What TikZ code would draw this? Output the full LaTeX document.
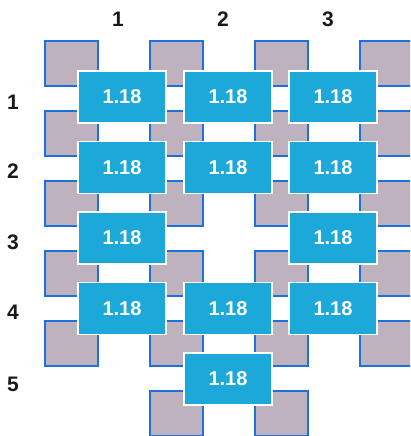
\documentclass[tikz,border=0pt]{standalone}
\usepackage{fontspec}
\setmainfont{Liberation Sans}
\definecolor{tilegray}{RGB}{189,178,190}
\definecolor{tileedge}{RGB}{30,112,220}
\definecolor{padblue}{RGB}{28,169,217}
\begin{document}
\begin{tikzpicture}[x=1pt,y=-1pt,
  tile/.style={rectangle, fill=tilegray, draw=tileedge, line width=1.8pt,
    minimum width=53pt, minimum height=45pt, anchor=north west, inner sep=0pt},
  pad/.style={rectangle, fill=padblue, draw=white, line width=1.5pt,
    minimum width=88pt, minimum height=52pt, inner sep=0pt, text=white,
    font=\bfseries\fontsize{20}{20}\selectfont},
  lab/.style={font=\bfseries\fontsize{21}{21}\selectfont, text=black!90}]
\clip (0,0) rectangle (410,436);
\fill[white] (0,0) rectangle (410,436);

% grey square tiles, rows 0-4 in all four columns
\foreach \c/\x in {1/44,2/149,3/254,4/359}
  \foreach \r/\y in {0/40,1/110,2/180,3/250,4/320}
    {\node[tile] (sq-\r-\c) at (\x,\y) {};}
% last row: only the two middle columns
\node[tile] (sq-5-2) at (149,390) {};
\node[tile] (sq-5-3) at (254,390) {};

% blue pads carrying the value
\foreach \n/\x/\y in {1-1/122/97, 1-2/228/97, 1-3/333/97,
                      2-1/122/167.5, 2-2/228/167.5, 2-3/333/167.5,
                      3-1/122/238, 3-3/333/238,
                      4-1/122/308.5, 4-2/228/308.5, 4-3/333/308.5,
                      5-2/228/379}
  {\node[pad] (pad-\n) at (\x,\y) {1.18};}

% column and row numbers
\node[lab] (col-1) at (118,19) {1};
\node[lab] (col-2) at (223,19) {2};
\node[lab] (col-3) at (328,19) {3};
\node[lab] (row-1) at (13,102) {1};
\node[lab] (row-2) at (13,171) {2};
\node[lab] (row-3) at (13,242) {3};
\node[lab] (row-4) at (13,312) {4};
\node[lab] (row-5) at (13,384) {5};
\end{tikzpicture}
\end{document}
